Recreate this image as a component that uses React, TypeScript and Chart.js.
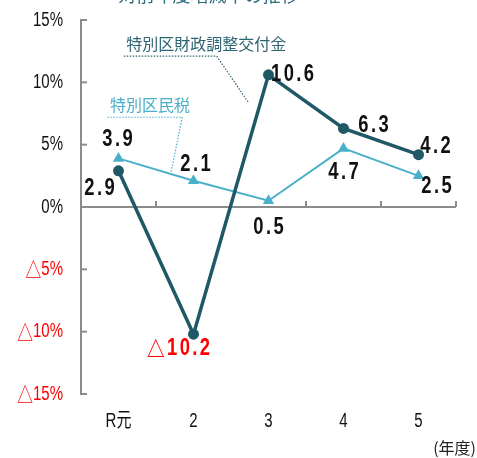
import React, { useEffect, useRef } from "react";
import { Chart, registerables } from "chart.js";

Chart.register(...registerables);

const categories = ["R元", "2", "3", "4", "5"];
const kofukinValues = [2.9, -10.2, 10.6, 6.3, 4.2];
const kuminzeiValues = [3.9, 2.1, 0.5, 4.7, 2.5];
const yTickValues = [-15, -10, -5, 0, 5, 10, 15];
const titleText = "対前年度増減率の推移";
const kofukinName = "特別区財政調整交付金";
const kuminzeiName = "特別区民税";
const yearUnit = "(年度)";

// label offsets (style, pixels) relative to each point
const kofukinLabelOffsets = [[-19, 18], [-15, 14], [24, 0], [30, -3], [17, -8]];
const kuminzeiLabelOffsets = [[-1, -19], [2, -16], [0, 27], [0, 24], [18, 11]];

const DARK = "#1f5866";
const LIGHT = "#4aafc9";
const AXIS = "#8c8c8c";
const SANS = '"Liberation Sans", "Noto Sans CJK JP", sans-serif';
const CJK = '"Noto Sans CJK JP", sans-serif';
const TRI = "△";

const fmt = (v: number) => (v < 0 ? TRI + Math.abs(v).toFixed(1) : v.toFixed(1));
const yFmt = (v: number) => (v < 0 ? TRI + Math.abs(v) + "%" : v + "%");

// draws text horizontally condensed; a leading △ is drawn with the CJK font
function drawNarrow(ctx: any, text: string, x: number, y: number, align: string, sx: number, font: string, triFont: string) {
  let tri = "";
  let rest = text;
  if (text.startsWith(TRI)) {
    tri = TRI;
    rest = text.slice(1);
  }
  ctx.save();
  ctx.font = triFont;
  const tw = tri ? ctx.measureText(tri).width : 0;
  ctx.font = font;
  const rw = ctx.measureText(rest).width;
  const total = (tw + rw) * sx;
  let left = x;
  if (align === "center") left = x - total / 2;
  else if (align === "right") left = x - total;
  ctx.translate(left, y);
  ctx.scale(sx, 1);
  ctx.textAlign = "left";
  if (tri) {
    ctx.font = triFont;
    ctx.fillText(tri, 0, 0);
  }
  ctx.font = font;
  ctx.fillText(rest, tw, 0);
  ctx.restore();
}

const overlay = {
  id: "overlay",
  beforeDatasetsDraw(chart: any) {
    const ctx = chart.ctx;
    const x = chart.scales.x;
    const y = chart.scales.y;
    const ca = chart.chartArea;
    ctx.save();
    ctx.strokeStyle = AXIS;
    ctx.lineWidth = 2;
    ctx.beginPath();
    ctx.moveTo(ca.left, y.getPixelForValue(15) - 1);
    ctx.lineTo(ca.left, y.getPixelForValue(-15) + 1);
    ctx.stroke();
    y.ticks.forEach((t: any) => {
      const py = y.getPixelForValue(t.value);
      ctx.beginPath();
      ctx.moveTo(ca.left, py);
      ctx.lineTo(ca.left + 6, py);
      ctx.stroke();
    });
    const zy = y.getPixelForValue(0);
    ctx.beginPath();
    ctx.moveTo(ca.left, zy);
    ctx.lineTo(ca.right, zy);
    ctx.stroke();
    for (let i = 0; i < categories.length; i++) {
      const px = x.getPixelForValue(i + 0.5);
      ctx.beginPath();
      ctx.moveTo(px, zy);
      ctx.lineTo(px, zy - 6);
      ctx.stroke();
    }
    ctx.textBaseline = "middle";
    y.ticks.forEach((t: any) => {
      ctx.fillStyle = t.value < 0 ? "#ff0000" : "#111";
      drawNarrow(ctx, yFmt(t.value), ca.left - 18, y.getPixelForValue(t.value), "right", 0.75, "20px " + SANS, "21px " + CJK);
    });
    ctx.fillStyle = "#111";
    categories.forEach((c, i) => {
      drawNarrow(ctx, c, x.getPixelForValue(i), ca.bottom + 27, "center", 0.75, "20px " + SANS, "20px " + CJK);
    });
    ctx.restore();
  },
  afterDraw(chart: any) {
    const ctx = chart.ctx;
    const x = chart.scales.x;
    const y = chart.scales.y;
    ctx.save();
    ctx.fillStyle = "#2a6b7a";
    ctx.font = "18px " + CJK;
    ctx.textAlign = "center";
    ctx.textBaseline = "alphabetic";
    ctx.fillText(titleText, x.getPixelForValue(1.2), 2);

    const drawCallout = (name: string, color: string, tx: number, ty: number, pts: number[][]) => {
      ctx.fillStyle = color;
      ctx.font = "16px " + CJK;
      ctx.textAlign = "center";
      ctx.textBaseline = "middle";
      ctx.fillText(name, x.getPixelForValue(tx), y.getPixelForValue(ty));
      ctx.strokeStyle = color;
      ctx.lineWidth = 1.2;
      ctx.setLineDash([1.5, 1.5]);
      ctx.beginPath();
      pts.forEach((p, i) => {
        const px = x.getPixelForValue(p[0]);
        const py = y.getPixelForValue(p[1]);
        if (i === 0) ctx.moveTo(px, py);
        else ctx.lineTo(px, py);
      });
      ctx.stroke();
      ctx.setLineDash([]);
    };
    drawCallout(kofukinName, "#2e6573", 1.17, 13.1, [[0.07, 12.1], [1.31, 12.1], [1.73, 8.4]]);
    drawCallout(kuminzeiName, LIGHT, 0.42, 8.2, [[-0.15, 7.2], [0.85, 7.2], [0.7, 2.75]]);

    ctx.textBaseline = "middle";
    (ctx as any).letterSpacing = "3px";
    const drawLabels = (dsIndex: number, values: number[], offsets: number[][]) => {
      const meta = chart.getDatasetMeta(dsIndex);
      meta.data.forEach((pt: any, i: number) => {
        const v = values[i];
        ctx.fillStyle = v < 0 ? "#ff0000" : "#111111";
        drawNarrow(ctx, fmt(v), pt.x + offsets[i][0] + 1.2, pt.y + offsets[i][1], "center", 0.8, "bold 23px " + SANS, "bold 22px " + CJK);
      });
    };
    drawLabels(0, kofukinValues, kofukinLabelOffsets);
    drawLabels(1, kuminzeiValues, kuminzeiLabelOffsets);
    (ctx as any).letterSpacing = "0px";

    ctx.fillStyle = "#222";
    ctx.font = "16px " + CJK;
    ctx.textAlign = "right";
    ctx.textBaseline = "alphabetic";
    ctx.fillText(yearUnit, chart.width - 1, chart.height - 4);
    ctx.restore();
  },
};

export default function App() {
  const ref = useRef<HTMLCanvasElement>(null);
  useEffect(() => {
    if (!ref.current) return;
    const chart = new Chart(ref.current, {
      type: "line",
      data: {
        labels: categories,
        datasets: [
          {
            label: kofukinName,
            data: kofukinValues,
            borderColor: DARK,
            backgroundColor: DARK,
            borderWidth: 3.5,
            pointStyle: "circle",
            pointRadius: 5.5,
            pointBorderWidth: 0,
            pointBackgroundColor: DARK,
          },
          {
            label: kuminzeiName,
            data: kuminzeiValues,
            borderColor: LIGHT,
            backgroundColor: LIGHT,
            borderWidth: 2,
            pointStyle: "triangle",
            pointRadius: 6.5,
            pointBorderWidth: 0,
            pointBackgroundColor: LIGHT,
          },
        ],
      },
      options: {
        responsive: false,
        animation: false,
        layout: { padding: { left: 0, right: 21, top: 20, bottom: 0 } },
        plugins: { legend: { display: false }, tooltip: { enabled: false }, title: { display: false } },
        scales: {
          x: {
            type: "category",
            offset: true,
            grid: { display: false, drawTicks: false },
            border: { display: false },
            ticks: { display: false },
            afterFit: (s: any) => {
              s.height = 64;
            },
          },
          y: {
            min: -15,
            max: 15,
            grid: { display: false, drawTicks: false },
            border: { display: false },
            afterBuildTicks: (s: any) => {
              s.ticks = yTickValues.map((v) => ({ value: v }));
            },
            ticks: { display: false },
            afterFit: (s: any) => {
              s.width = 81;
            },
          },
        },
      },
      plugins: [overlay],
    });
    return () => chart.destroy();
  }, []);
  return (
    <div style={{ position: "fixed", left: 0, top: 0, width: 477, height: 458, background: "#fff" }}>
      <canvas ref={ref} width={477} height={458} style={{ display: "block" }} />
    </div>
  );
}
